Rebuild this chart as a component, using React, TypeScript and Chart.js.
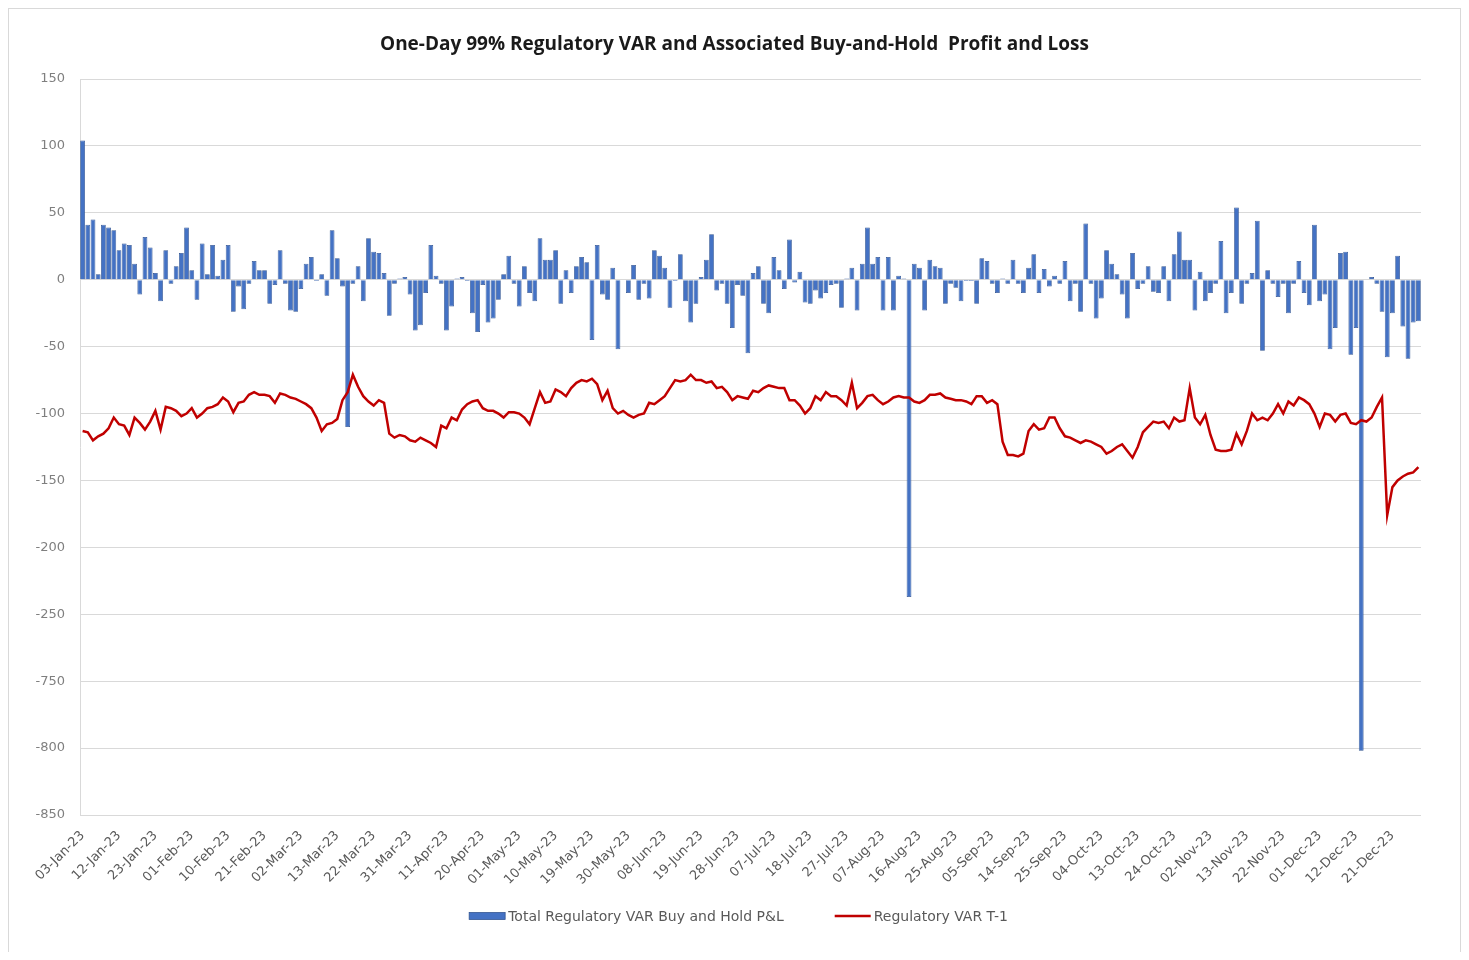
import { useEffect, useRef } from "react";
import { Chart, registerables } from "chart.js";

Chart.register(...registerables);

// ---- data -------------------------------------------------------------
const TITLE = "One-Day 99% Regulatory VAR and Associated Buy-and-Hold  Profit and Loss";
const PNL_LABEL = "Total Regulatory VAR Buy and Hold P&L";
const VAR_LABEL = "Regulatory VAR T-1";

// first business day shown; one category per weekday
const START_DATE = "2023-01-03";
const LABEL_EVERY = 7;
const MONTHS = ["Jan", "Feb", "Mar", "Apr", "May", "Jun", "Jul", "Aug", "Sep", "Oct", "Nov", "Dec"];

// daily buy-and-hold P&L
const PNL = [
  104, 41, 45, 4, 41, 39, 37, 22, 27, 26,
  12, -11, 32, 24, 5, -16, 22, -3, 10, 20,
  39, 7, -15, 27, 4, 26, 3, 15, 26, -24,
  -5, -22, -3, 14, 7, 7, -18, -4, 22, -3,
  -23, -24, -7, 12, 17, -1, 4, -12, 37, 16,
  -5, -110, -3, 10, -16, 31, 21, 20, 5, -27,
  -3, 1, 2, -11, -38, -34, -10, 26, 3, -3,
  -38, -20, 1, 2, -1, -25, -39, -4, -32, -29,
  -15, 4, 18, -3, -20, 10, -10, -16, 31, 15,
  15, 22, -18, 7, -10, 10, 17, 13, -45, 26,
  -11, -15, 9, -52, 0, -10, 11, -15, -3, -14,
  22, 18, 9, -21, -1, 19, -16, -32, -18, 2,
  15, 34, -8, -3, -18, -36, -4, -12, -55, 5,
  10, -18, -25, 17, 7, -7, 30, -2, 6, -17,
  -18, -8, -14, -10, -4, -3, -21, 1, 9, -23,
  12, 39, 12, 17, -23, 17, -23, 3, 1, -237,
  12, 9, -23, 15, 10, 9, -18, -3, -6, -16,
  -1, -1, -18, 16, 14, -3, -10, 1, -3, 15,
  -3, -10, 9, 19, -10, 8, -5, 3, -3, 14,
  -16, -3, -24, 42, -3, -29, -14, 22, 12, 4,
  -11, -29, 20, -7, -3, 10, -9, -10, 10, -16,
  19, 36, 15, 15, -23, 6, -16, -10, -3, 29,
  -25, -10, 54, -18, -3, 5, 44, -53, 7, -3,
  -13, -3, -25, -3, 14, -10, -19, 41, -16, -11,
  -52, -36, 20, 21, -56, -36, -802, 0, 2, -3,
  -24, -58, -25, 18, -35, -59, -32, -31,
];

// regulatory VAR T-1 (negative)
const VAR_T1 = [
  -113, -114, -120, -117, -115, -111, -103, -108, -109, -116,
  -103, -107, -112, -106, -98, -112, -95, -96, -98, -102,
  -100, -96, -103, -100, -96, -95, -93, -88, -91, -99,
  -92, -91, -86, -84, -86, -86, -87, -92, -85, -86,
  -88, -89, -91, -93, -96, -103, -113, -108, -107, -104,
  -90, -84, -71, -80, -87, -91, -94, -90, -92, -115,
  -118, -116, -117, -120, -121, -118,
  -120, -122, -125, -109, -111, -103, -105, -97, -93, -91,
  -90, -96, -98, -98, -100, -103, -99, -99, -100, -103,
  -108, -96, -84, -92, -91, -82, -84, -87, -81, -77,
  -75, -76, -74, -78, -90, -83, -96, -100, -98, -101,
  -103, -101, -100, -92, -93, -90, -87, -81, -75, -76,
  -75, -71, -75, -75, -77, -76, -81, -80, -84, -90,
  -87, -88, -89, -83,
  -84, -81, -79, -80, -81, -81, -90, -90, -94, -100,
  -96, -87, -90, -84, -87, -87, -90, -94, -77, -96,
  -92, -87, -86, -90, -93, -91, -88, -87, -88, -88,
  -91, -92, -90, -86, -86, -85, -88, -89, -90, -90,
  -91, -93, -87, -87, -92, -90, -93, -121, -131, -131,
  -132, -130, -113, -108, -112, -111, -103, -103, -111, -117,
  -118, -120, -122,
  -120, -121, -123, -125, -130, -128, -125, -123, -128, -133,
  -125, -114, -110, -106, -107, -106, -111, -103, -106, -105,
  -81, -103, -108, -101, -116, -127, -128, -128, -127, -115,
  -123, -113, -100, -105, -103, -105, -100, -93, -100, -91,
  -94, -88, -90, -93, -100, -110, -100, -101, -106, -101,
  -100, -107, -108, -105, -106, -103, -95, -88, -176, -155,
  -150, -147, -145, -144, -140,
];

// broken value axis: ticks run 150 … -250, then -750, -800, -850
const AXIS_MAX = 150;
const AXIS_MIN = -400;
const AXIS_STEP = 50;
const BREAK_BELOW = -250;
const BREAK_GAP = 450;

const BAR_COLOR = "#4472c4";
const BAR_EDGE = "#2f528f";
const LINE_COLOR = "#c00000";

// ---- helpers ----------------------------------------------------------
const toAxis = (v: number) => (v < BREAK_BELOW ? v + BREAK_GAP : v);
const fromAxis = (v: number) => (v < BREAK_BELOW ? v - BREAK_GAP : v);

function businessDays(start: string, n: number): string[] {
  const [y, m, d] = start.split("-").map(Number);
  const dt = new Date(Date.UTC(y, m - 1, d));
  const out: string[] = [];
  while (out.length < n) {
    const wd = dt.getUTCDay();
    if (wd !== 0 && wd !== 6) {
      const dd = String(dt.getUTCDate()).padStart(2, "0");
      const yy = String(dt.getUTCFullYear() % 100).padStart(2, "0");
      out.push(`${dd}-${MONTHS[dt.getUTCMonth()]}-${yy}`);
    }
    dt.setUTCDate(dt.getUTCDate() + 1);
  }
  return out;
}

const DATES = businessDays(START_DATE, PNL.length);

// legend drawn below the axis labels, Excel style (wide swatches)
const bottomLegend = {
  id: "bottomLegend",
  afterDraw(chart: any) {
    const ctx: CanvasRenderingContext2D = chart.ctx;
    const sw = 36;
    const textGap = 3;
    const itemGap = 51;
    const y = chart.height - 36;
    ctx.save();
    ctx.font = '14px "DejaVu Sans"';
    ctx.textBaseline = "middle";
    ctx.textAlign = "left";
    const items = chart.data.datasets.map((ds: any) => ({
      label: ds.label as string,
      kind: ds.type as string,
      color: (ds.type === "line" ? ds.borderColor : ds.backgroundColor) as string,
    }));
    const widths = items.map((it: any) => sw + textGap + ctx.measureText(it.label).width);
    const total = widths.reduce((a: number, b: number) => a + b, 0) + itemGap * (items.length - 1);
    let x = chart.width / 2 + 4 - total / 2;
    items.forEach((it: any, i: number) => {
      if (it.kind === "line") {
        ctx.strokeStyle = it.color;
        ctx.lineWidth = 2.5;
        ctx.beginPath();
        ctx.moveTo(x, y);
        ctx.lineTo(x + sw, y);
        ctx.stroke();
      } else {
        ctx.fillStyle = it.color;
        ctx.fillRect(x, y - 3.5, sw, 7);
        ctx.strokeStyle = BAR_EDGE;
        ctx.lineWidth = 0.75;
        ctx.strokeRect(x, y - 3.5, sw, 7);
      }
      ctx.fillStyle = "#595959";
      ctx.fillText(it.label, x + sw + textGap, y + 1);
      x += widths[i] + itemGap;
    });
    ctx.restore();
  },
};

export default function App() {
  const ref = useRef<HTMLCanvasElement | null>(null);

  useEffect(() => {
    if (!ref.current) return;
    const chart = new Chart(ref.current, {
      data: {
        labels: DATES,
        datasets: [
          {
            type: "bar",
            label: PNL_LABEL,
            data: PNL.map(toAxis),
            backgroundColor: BAR_COLOR,
            borderColor: BAR_EDGE,
            borderWidth: 0.75,
            barPercentage: 0.92,
            categoryPercentage: 1,
            order: 2,
          } as any,
          {
            type: "line",
            label: VAR_LABEL,
            data: VAR_T1.map(toAxis),
            borderColor: LINE_COLOR,
            backgroundColor: LINE_COLOR,
            borderWidth: 2.5,
            pointRadius: 0,
            tension: 0,
            order: 1,
          } as any,
        ],
      },
      options: {
        animation: false,
        responsive: false,
        maintainAspectRatio: false,
        layout: { padding: { left: 0, right: 0, top: 0, bottom: 67 } },
        plugins: {
          title: {
            display: true,
            text: TITLE,
            color: "#1a1a1a",
            font: { family: "Open Sans", size: 19, weight: "bold" },
            padding: { top: 24.6, bottom: 22.6 },
          },
          legend: { display: false },
          tooltip: { enabled: false },
        },
        scales: {
          x: {
            type: "category",
            offset: true,
            grid: { display: false, drawTicks: false },
            border: { display: false },
            ticks: {
              autoSkip: false,
              minRotation: 45,
              maxRotation: 45,
              padding: 13,
              color: "#595959",
              font: { family: "DejaVu Sans", size: 13 },
              callback: function (this: any, v: any, i: number) {
                return i % LABEL_EVERY === 0 ? this.getLabelForValue(v) : null;
              },
            },
            afterFit: (s: any) => {
              s.height = 70;
            },
          },
          y: {
            type: "linear",
            min: AXIS_MIN,
            max: AXIS_MAX,
            grid: { color: "#d9d9d9", drawTicks: false },
            border: { display: true, color: "#d9d9d9" },
            ticks: {
              stepSize: AXIS_STEP,
              padding: 15,
              color: "#7f7f7f",
              font: { family: "DejaVu Sans", size: 13 },
              callback: (v: any) => String(fromAxis(Number(v))),
            },
            afterFit: (s: any) => {
              s.width = 71;
            },
          },
          yRight: {
            type: "linear",
            position: "right",
            min: 0,
            max: 1,
            grid: { display: false, drawTicks: false },
            border: { display: false },
            ticks: { display: false },
            afterFit: (s: any) => {
              s.width = 39;
            },
          },
        },
      } as any,
      plugins: [bottomLegend],
    });
    return () => chart.destroy();
  }, []);

  return (
    <div
      style={{
        boxSizing: "border-box",
        width: 1453,
        height: 944,
        border: "1px solid #d9d9d9",
        borderBottom: "none",
        overflow: "hidden",
        background: "#fff",
      }}
    >
      <canvas ref={ref} width={1451} height={943} style={{ display: "block" }} />
    </div>
  );
}
